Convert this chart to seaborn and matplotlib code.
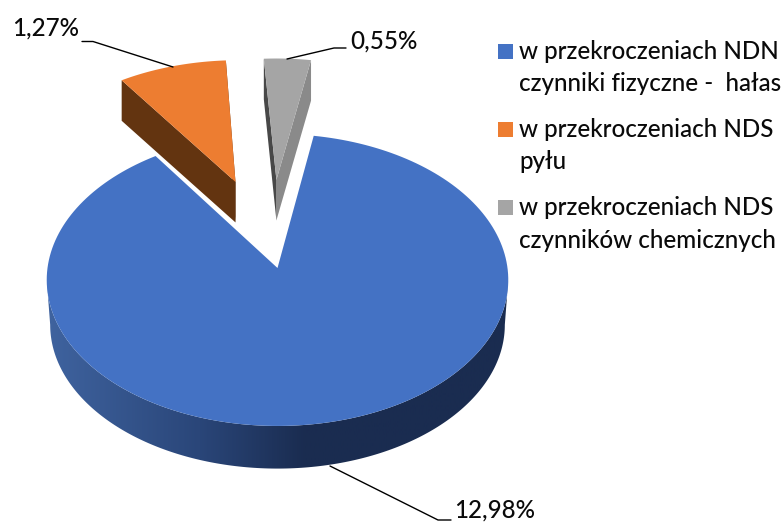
import numpy as np
import matplotlib
matplotlib.use("Agg")
import matplotlib.pyplot as plt
from matplotlib.colors import LinearSegmentedColormap
from matplotlib.patches import Polygon, Rectangle
import seaborn as sns

# chart values (percent)
values = [12.98, 1.27, 0.55]
value_labels = ["12,98%", "1,27%", "0,55%"]
legend_lines = [
    ["w przekroczeniach NDN", "czynniki fizyczne -  hałas"],
    ["w przekroczeniach NDS", "pyłu"],
    ["w przekroczeniach NDS", "czynników chemicznych"],
]
top_colors = ["#4472C4", "#ED7D31", "#A5A5A5"]

sns.set_theme(style="white")
plt.rcParams["font.family"] = ["Lato", "DejaVu Sans"]
palette = sns.color_palette(top_colors)
TEXT = "#0a0a0a"
FS = 17.4
WEIGHT = "medium"

fig = plt.figure(figsize=(7.83, 5.22), dpi=100)
ax = fig.add_axes([0, 0, 1, 1])


# unit disc -> pixel position, with a bit of perspective
def project(u, v, shift=0, scale=1.0):
    k = 0.082
    d = 1 + k * v
    return np.column_stack([277.5 + scale * 230 * u / d,
                            268 + shift - scale * 145 * v / d])


def rim(wedge, t1, t2, **kw):
    t = np.radians(np.linspace(t1, t2, 200))
    cx, cy = wedge.center
    return project(cx + wedge.r * np.cos(t), cy + wedge.r * np.sin(t), **kw)


def edge_face(wedge, theta, shift):
    # the cut side of an exploded slice
    t = np.radians(theta)
    cx, cy = wedge.center
    top = project(np.array([cx + np.cos(t), cx]), np.array([cy + np.sin(t), cy]))
    low = project(np.array([cx, cx + np.cos(t)]), np.array([cy, cy + np.sin(t)]), shift=shift)
    return np.vstack([top, low])


# angles come from the pie itself, then the wedges get re-projected
wedges, _ = ax.pie(values, startangle=80.2, counterclock=False, colors=palette)
wedges[1].set_center((-0.192, 0.624))
wedges[2].set_center((-0.005, 0.639))

# blue side wall with the shading, joined at the widest points of the ellipse
blue = wedges[0]
blue_depth = dict(shift=45, scale=0.985)
wall = np.vstack([rim(blue, 184.7, 355.3), rim(blue, 355.3, 184.7, **blue_depth)])
wall_patch = Polygon(wall, closed=True, facecolor="none", edgecolor="none", zorder=2)
ax.add_patch(wall_patch)
shade = LinearSegmentedColormap.from_list(
    "wall", [(0, "#3f639f"), (0.33, "#2a4679"), (0.56, "#1a2c50"), (1, "#1a2c50")])
im = ax.imshow(np.linspace(0, 1, 256).reshape(1, -1), cmap=shade, aspect="auto",
               extent=(47, 508, 522, 0), zorder=2)
im.set_clip_path(wall_patch)

# cut sides of the two pulled out slices
depth = 40.5
side_colors = [("#633410", "#633410"), ("#8a8a8a", "#484848")]
for w, (right_c, left_c) in zip(wedges[1:], side_colors):
    ax.add_patch(Polygon(edge_face(w, w.theta1, depth), closed=True, color=right_c, lw=0, zorder=3))
    ax.add_patch(Polygon(edge_face(w, w.theta2, depth), closed=True, color=left_c, lw=0, zorder=3))

# top faces
for w, c in zip(wedges, palette):
    cx, cy = w.center
    outline = np.vstack([project(np.array([cx]), np.array([cy])), rim(w, w.theta1, w.theta2)])
    ax.add_patch(Polygon(outline, closed=True, color=c, lw=0, zorder=4))
    w.remove()

# leader lines
ax.plot([330, 438, 451], [466, 520, 520], color="black", lw=1, zorder=5)
ax.plot([82, 93, 173], [41.5, 41.5, 67], color="black", lw=1, zorder=5)
ax.plot([287, 334, 346], [59, 48, 48], color="black", lw=1, zorder=5)

ax.text(454, 518, value_labels[0], fontsize=FS, color=TEXT, fontweight=WEIGHT, va="baseline")
ax.text(12, 36, value_labels[1], fontsize=FS, color=TEXT, fontweight=WEIGHT, va="baseline")
ax.text(350, 49, value_labels[2], fontsize=FS, color=TEXT, fontweight=WEIGHT, va="baseline")

# legend
baselines = [(59, 91), (137, 169), (215, 248)]
for lines, ys, c in zip(legend_lines, baselines, palette):
    ax.add_patch(Rectangle((498, ys[0] - 15), 15, 15, color=c, lw=0))
    for line, y in zip(lines, ys):
        ax.text(519, y, line, fontsize=FS, color=TEXT, fontweight=WEIGHT, va="baseline")

ax.set_aspect("auto")
ax.set_xlim(0, 783)
ax.set_ylim(522, 0)
ax.axis("off")
fig.savefig("out.png", dpi=100)
